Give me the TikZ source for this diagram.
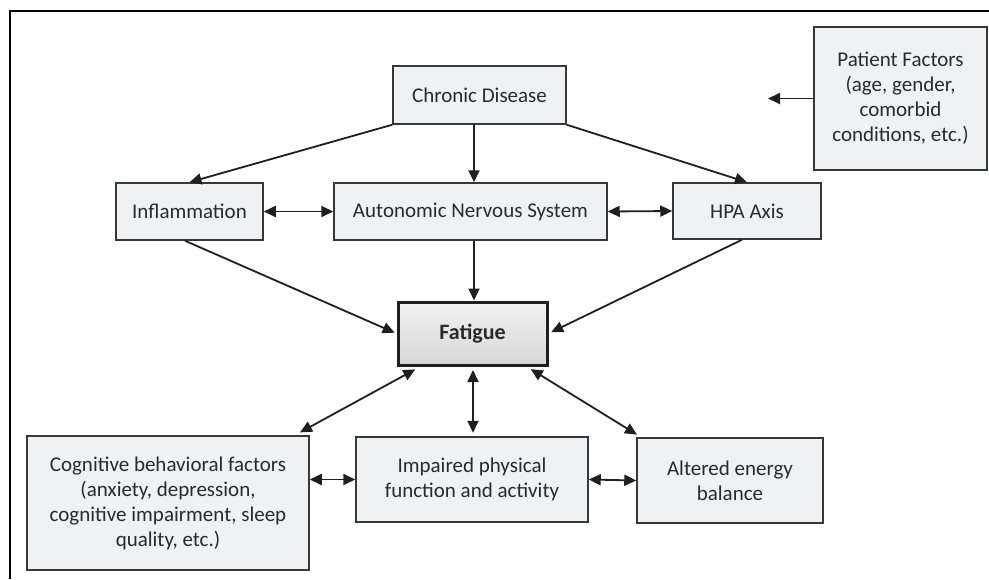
\documentclass[tikz,border=0pt]{standalone}
\usepackage{fontspec}
\setmainfont{Carlito}
\usetikzlibrary{arrows.meta,calc}
\definecolor{boxfill}{HTML}{F0F1F3}
\definecolor{boxline}{HTML}{383838}
\definecolor{txt}{HTML}{2A2A2A}
\begin{document}
\begin{tikzpicture}[x=1pt,y=-1pt,
  box/.style={draw=boxline,line width=1.5pt,fill=boxfill,inner sep=0pt,align=center,text=txt,font=\fontsize{21}{25}\selectfont},
  tip/.tip={Triangle[length=12pt,width=11pt]},
  conn/.style={line width=1.8pt,draw=black!88,-tip},
  dconn/.style={line width=1.8pt,draw=black!88,tip-tip}]
\useasboundingbox (0,0) rectangle (989,579);
\fill[white] (0,0) rectangle (989,579);
\draw[line width=2.5pt] (10,579) -- (10,11) -- (989,11);

\node[box,minimum width=173pt,minimum height=58pt] (chronic) at (479.5,95) {Chronic Disease};
\node[box,minimum width=173pt,minimum height=143pt] (patient) at (900.5,98.5) {Patient Factors\\(age, gender,\\comorbid\\conditions, etc.)};
\node[box,minimum width=147pt,minimum height=57pt] (infl) at (189.5,211.5) {Inflammation};
\node[box,minimum width=273pt,minimum height=57pt] (ans) at (470.5,211.5) {Autonomic Nervous System};
\node[box,minimum width=148pt,minimum height=56pt] (hpa) at (747,211) {HPA Axis};
\node[draw=black!88,line width=3pt,top color=gray!10,bottom color=gray!32,inner sep=0pt,text=txt,
      minimum width=149pt,minimum height=63pt,font=\bfseries\fontsize{22}{26}\selectfont] (fatigue) at (472.5,333.5) {Fatigue};
\node[box,minimum width=282pt,minimum height=134pt] (cog) at (168,503) {Cognitive behavioral factors\\(anxiety, depression,\\cognitive impairment, sleep\\quality, etc.)};
\node[box,minimum width=232pt,minimum height=85pt] (imp) at (472,479.5) {Impaired physical\\function and activity};
\node[box,minimum width=186pt,minimum height=85pt] (alt) at (730,480.5) {Altered energy\\balance};

\coordinate (pfend) at (768,98.5);
\draw[conn] (patient.west) -- (pfend);

\draw[conn] (chronic.south west) -- (infl.north);
\draw[conn] ($(chronic.south)+(-5.5,0)$) -- ($(ans.north)+(3.5,0)$);
\draw[conn] (chronic.south east) -- (hpa.north);
\draw[dconn] (infl.east) -- (ans.west);
\draw[dconn] (ans.east) -- (hpa.west);
\draw[conn,shorten >=2pt] ($(infl.south)+(-4.5,0)$) -- (fatigue.west);
\draw[conn] ($(ans.south)+(3.5,0)$) -- ($(fatigue.north)+(1.5,0)$);
\draw[conn,shorten >=3pt] ($(hpa.south)+(-5,0)$) -- (fatigue.east);

\draw[dconn,shorten <=6pt,shorten >=6pt] ($(fatigue.south west)+(24,0)$) -- ($(cog.north east)+(-15,0)$);
\draw[dconn,shorten <=3.5pt,shorten >=3.5pt] ($(fatigue.south)+(0.5,0)$) -- ($(imp.north)+(1,0)$);
\draw[dconn,shorten <=5pt,shorten >=5pt] ($(fatigue.south east)+(-22,0)$) -- ($(alt.north west)+(5,0)$);
\draw[dconn] (imp.west -| cog.east) -- (imp.west);
\draw[dconn] (imp.east) -- (alt.west);
\end{tikzpicture}
\end{document}
